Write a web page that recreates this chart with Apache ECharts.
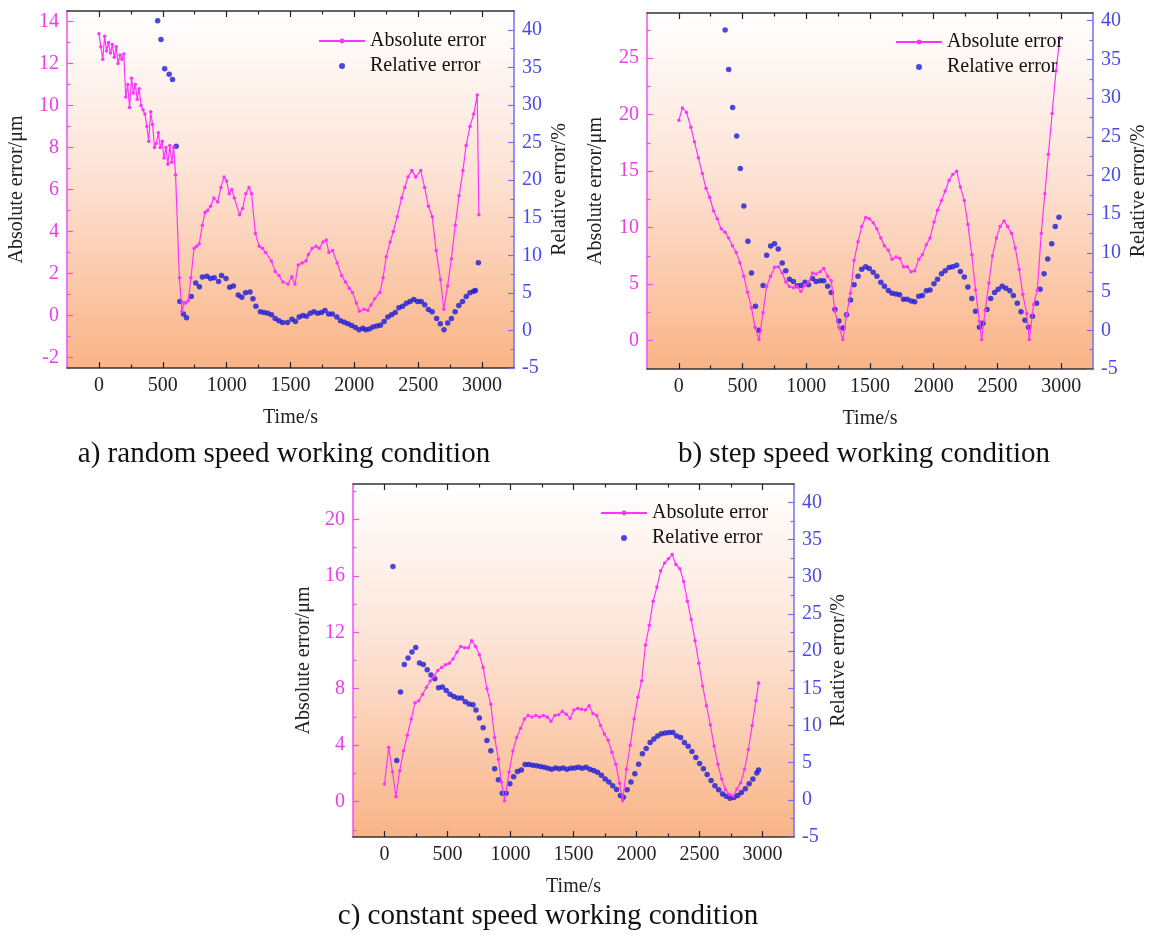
<!DOCTYPE html>
<html><head><meta charset="utf-8">
<script src="https://cdn.jsdelivr.net/npm/echarts@6/dist/echarts.min.js"></script>
<style>html,body{margin:0;padding:0;background:#fff}#c{width:1150px;height:936px}</style>
</head><body><div id="c"></div>
<script>
// ---------- tick labels ----------
const xTicks = [0, 500, 1000, 1500, 2000, 2500, 3000];
const xMinorTicks = [250, 750, 1250, 1750, 2250, 2750];
const rightTicks = [-5, 0, 5, 10, 15, 20, 25, 30, 35, 40];
const rightMinorTicks = [-2.5, 2.5, 7.5, 12.5, 17.5, 22.5, 27.5, 32.5, 37.5];
const aLeftTicks = [-2, 0, 2, 4, 6, 8, 10, 12, 14];
const aLeftMinor = [-1, 1, 3, 5, 7, 9, 11, 13];
const bLeftTicks = [0, 5, 10, 15, 20, 25];
const bLeftMinor = [2.5, 7.5, 12.5, 17.5, 22.5, 27.5];
const cLeftTicks = [0, 4, 8, 12, 16, 20];
const cLeftMinor = [-2, 2, 6, 10, 14, 18, 22];
const captions = ['a) random speed working condition', 'b) step speed working condition', 'c) constant speed working condition'];

// ---------- panel a: random speed ----------
const aAbsT = [0,15,30,45,60,75,90,105,120,135,150,165,180,195,210,225,240,255,270,285,300,315,330,345,360,375,390,405,420,435,450,465,480,495,510,525,540,555,570,585,600,630,650,665,680,700,720,745,765,785,810,830,850,875,900,930,955,980,1000,1020,1040,1060,1100,1125,1150,1175,1195,1225,1255,1280,1305,1350,1380,1410,1440,1480,1510,1535,1560,1590,1620,1640,1670,1700,1725,1755,1780,1800,1830,1865,1900,1930,1960,1985,2015,2040,2075,2105,2130,2160,2200,2225,2250,2280,2305,2335,2370,2395,2420,2450,2480,2520,2550,2580,2610,2640,2675,2700,2730,2760,2790,2820,2850,2875,2905,2935,2962,2975];
const aAbsV = [13.42,12.8,12.2,13.3,12.6,13.0,12.5,12.9,12.3,12.8,12.0,12.4,12.2,12.45,10.4,11.0,9.9,11.3,10.6,11.0,10.3,10.8,10.0,9.8,9.6,9.0,8.3,9.7,9.1,8.0,8.2,8.7,8.0,8.3,7.5,8.0,7.2,8.1,7.3,8.0,6.7,1.8,0.2,0.6,0.6,0.7,1.8,3.2,3.3,3.4,4.3,4.9,5.0,5.2,5.6,5.4,6.1,6.6,6.4,5.8,6.0,5.6,4.8,5.1,5.8,6.1,5.8,3.9,3.3,3.2,3.0,2.6,2.1,1.9,1.6,1.5,1.85,1.5,2.4,2.5,2.6,2.9,3.2,3.3,3.2,3.5,3.6,3.0,3.1,2.5,1.9,1.6,1.3,1.1,0.6,0.2,0.3,0.25,0.5,0.8,1.1,1.8,2.8,3.5,4.0,4.7,5.6,6.1,6.6,6.9,6.6,6.9,6.1,5.2,4.7,3.1,1.7,0.3,1.4,2.7,4.3,5.7,6.9,8.1,9.0,9.6,10.5,4.8];
const aRelT = [460,486,515,550,576,605,634,662,686,723,758,787,810,845,874,903,937,960,995,1024,1053,1091,1119,1148,1183,1206,1229,1264,1293,1322,1351,1380,1409,1438,1476,1511,1539,1568,1597,1626,1655,1684,1713,1742,1770,1799,1828,1863,1892,1921,1950,1979,2008,2037,2066,2089,2117,2146,2175,2204,2233,2262,2291,2320,2349,2378,2407,2436,2465,2494,2523,2551,2580,2609,2644,2673,2702,2731,2760,2789,2818,2847,2876,2905,2934,2948,2971];
const aRelV = [41.2,38.7,34.8,34.1,33.4,24.5,3.85,2.2,1.7,4.5,6.3,5.8,7.1,7.2,6.9,7.0,6.5,7.3,6.9,5.75,5.9,4.7,4.4,5.0,5.1,4.2,3.2,2.5,2.4,2.3,2.1,1.6,1.3,1.06,1.06,1.5,1.2,1.8,2.0,1.9,2.3,2.5,2.3,2.4,2.65,2.2,2.2,1.8,1.3,1.1,0.9,0.66,0.4,0.1,0.3,0.1,0.2,0.44,0.6,0.7,1.2,1.8,2.1,2.4,3.0,3.2,3.6,3.85,4.1,3.85,3.85,3.4,2.8,2.5,1.6,0.9,0.1,1.0,1.6,2.5,3.3,3.85,4.5,5.0,5.2,5.3,9.0];

// ---------- panel b: step speed ----------
const bAbsT = [0,28,60,94,122,153,184,213,241,272,301,332,363,391,420,451,479,510,539,570,598,629,661,689,720,751,780,811,839,868,899,930,958,990,1018,1049,1077,1109,1137,1168,1196,1225,1256,1287,1316,1347,1375,1406,1435,1466,1494,1525,1554,1585,1613,1644,1673,1704,1732,1763,1792,1823,1851,1883,1911,1942,1971,2002,2030,2061,2090,2121,2149,2180,2209,2240,2268,2299,2328,2359,2376,2404,2433,2461,2492,2521,2552,2580,2611,2640,2671,2699,2730,2750,2784,2813,2844,2872,2900,2929,2960,2990];
const bAbsV = [19.5,20.6,20.2,18.9,17.6,16.2,14.8,13.5,12.7,11.5,10.8,9.9,9.6,9.1,8.4,7.8,6.9,5.7,4.3,2.9,1.2,0.1,2.5,4.8,5.7,6.5,6.55,6.0,5.2,4.8,4.7,4.8,4.35,4.9,5.2,6.0,5.9,6.1,6.4,5.7,5.3,2.6,1.2,0.1,2.3,4.2,7.1,8.75,10.1,10.9,10.8,10.45,9.9,9.1,8.4,8.0,7.2,7.4,7.3,6.55,6.55,6.1,6.2,7.2,7.6,8.5,9.1,10.5,11.55,12.4,13.25,14.2,14.7,15.0,13.6,12.4,10.3,7.6,4.5,1.7,0.1,2.7,5.1,7.5,9.1,10.1,10.6,10.1,9.5,8.2,6.3,4.1,2.4,0.1,3.2,4.5,9.5,13.0,16.5,20.1,23.9,26.8];
const bRelT = [363,391,422,454,482,510,542,570,601,629,661,689,720,751,780,811,839,868,899,930,958,990,1018,1049,1077,1109,1137,1168,1196,1225,1256,1287,1316,1347,1375,1406,1435,1466,1494,1525,1554,1585,1613,1644,1673,1704,1732,1763,1792,1823,1851,1883,1911,1942,1971,2002,2030,2061,2090,2121,2149,2180,2209,2240,2268,2299,2328,2359,2387,2418,2447,2478,2506,2537,2566,2597,2625,2656,2685,2716,2744,2775,2807,2835,2866,2895,2926,2954,2983];
const bRelV = [38.8,33.7,28.8,25.1,20.9,16.05,11.5,7.4,3.1,0.0,5.8,9.7,10.9,11.2,10.5,8.7,7.7,6.6,6.3,5.75,5.8,6.2,5.9,6.7,6.3,6.4,6.4,5.7,4.9,2.7,1.2,0.3,2.0,3.9,5.9,7.0,7.9,8.2,8.0,7.5,7.0,6.2,5.7,5.15,4.8,4.7,4.6,4.0,4.0,3.8,3.7,4.4,4.5,5.1,5.2,6.0,6.6,7.3,7.7,8.1,8.2,8.4,7.6,6.9,5.6,4.1,2.45,0.4,0.9,2.7,4.1,4.9,5.3,5.7,5.45,5.1,4.5,3.5,2.4,1.3,0.4,1.8,3.5,5.3,7.3,9.2,11.2,13.4,14.6];

// ---------- panel c: constant speed ----------
const cAbsT = [0,33,64,91,121,151,181,212,242,272,302,333,363,393,423,454,484,514,544,575,605,635,665,692,723,753,783,813,844,874,904,928,953,989,1019,1049,1080,1110,1140,1170,1200,1231,1261,1291,1321,1352,1382,1412,1442,1473,1503,1533,1563,1594,1624,1654,1684,1715,1745,1775,1805,1836,1866,1890,1920,1950,1981,2011,2041,2071,2102,2132,2162,2192,2223,2253,2283,2313,2344,2374,2404,2434,2465,2495,2525,2555,2586,2616,2646,2676,2706,2737,2767,2797,2827,2858,2888,2918,2948,2969];
const cAbsV = [1.25,3.85,2.1,0.35,2.2,3.6,4.7,5.85,7.0,7.15,7.6,8.1,8.55,8.9,9.3,9.5,9.7,9.8,10.1,10.6,11.0,10.9,10.9,11.4,11.0,10.4,9.5,8.0,6.9,4.55,3.0,1.4,0.07,2.1,3.6,4.55,5.2,5.85,6.1,6.0,6.1,6.0,6.1,6.0,5.7,6.1,6.15,6.4,6.2,5.9,6.5,6.6,6.55,6.5,6.8,6.25,6.1,5.4,4.8,4.35,3.5,2.65,1.3,0.07,2.3,4.0,5.85,7.4,8.55,11.1,12.5,14.2,15.2,16.35,16.9,17.2,17.5,16.8,16.5,15.6,14.2,12.9,11.4,9.8,8.2,6.8,5.45,3.95,2.65,1.6,0.85,0.5,0.4,0.9,1.35,2.3,3.7,5.4,7.15,8.4];
const cRelT = [67,97,127,157,187,218,248,278,308,339,369,399,429,460,490,520,550,581,611,641,671,702,726,753,783,813,844,874,904,934,965,995,1025,1055,1086,1116,1146,1176,1207,1237,1267,1297,1327,1358,1388,1418,1448,1479,1509,1539,1569,1600,1630,1660,1690,1721,1751,1781,1811,1842,1872,1896,1926,1956,1987,2017,2047,2077,2108,2138,2168,2198,2229,2259,2289,2319,2350,2380,2410,2440,2471,2501,2531,2561,2592,2622,2652,2683,2713,2743,2773,2803,2833,2864,2894,2924,2955,2969];
const cRelV = [31.4,5.3,14.5,18.2,19.1,19.9,20.5,18.4,18.2,17.5,16.8,16.3,15.1,15.2,14.7,14.2,13.9,13.7,13.7,13.2,12.9,12.8,12.1,11.0,9.7,8.0,6.6,4.2,2.7,0.9,0.9,2.15,3.1,3.8,4.0,4.75,4.75,4.65,4.6,4.5,4.4,4.25,4.1,4.3,4.2,4.3,4.1,4.25,4.3,4.4,4.25,4.4,4.1,3.95,3.7,3.3,2.8,2.4,1.9,1.4,0.6,0.35,1.35,2.4,3.5,4.8,6.2,6.9,7.7,8.2,8.6,8.9,9.0,9.05,9.05,8.6,8.4,7.7,7.2,6.5,5.7,4.9,4.2,3.4,2.6,1.9,1.35,0.8,0.5,0.2,0.3,0.6,1.0,1.5,2.15,2.8,3.6,4.0];

// ---------- build ----------
const FONT = "'Liberation Serif','Times New Roman',serif";
const FS = 20;
const MAGENTA = '#ff33ff', BLUE = '#1c1cd8';
const LEFT_COL = '#ec3cec', LEFT_LINE = '#f050f0', RIGHT_COL = '#4a4ae6', RIGHT_LINE = '#7070f0';
const zip = (t, v) => t.map((x, i) => [x, v[i]]);

const panels = [
  { grid: {left: 67, top: 11, width: 447, height: 357}, lmin: -2.5, lmax: 14.5, lt: aLeftTicks, lm: aLeftMinor,
    rmin: -5, rmax: 42.5, abs: zip(aAbsT, aAbsV), rel: zip(aRelT, aRelV),
    legend: {left: 318, top: 31}, lgap: 40, rgap: 36, cap: [284, 454] },
  { grid: {left: 647, top: 13, width: 447, height: 356}, lmin: -2.5, lmax: 29, lt: bLeftTicks, lm: bLeftMinor,
    rmin: -5, rmax: 41, abs: zip(bAbsT, bAbsV), rel: zip(bRelT, bRelV),
    legend: {left: 895, top: 32}, lgap: 41, rgap: 36, cap: [864, 454] },
  { grid: {left: 353, top: 484, width: 441, height: 353}, lmin: -2.5, lmax: 22.5, lt: cLeftTicks, lm: cLeftMinor,
    rmin: -5, rmax: 42.5, abs: zip(cAbsT, cAbsV), rel: zip(cRelT, cRelV),
    legend: {left: 600, top: 503}, lgap: 39, rgap: 35, cap: [548, 916] }
];

const option = { animation: false, backgroundColor: '#fff', grid: [], xAxis: [], yAxis: [], series: [], legend: [], graphic: [] };

const bg = { type: 'linear', x: 0, y: 0, x2: 0, y2: 1,
  colorStops: [{offset: 0, color: '#ffffff'}, {offset: 0.45, color: '#fde3d6'}, {offset: 1, color: '#f9b486'}] };

function valAxis(gi, pos, min, max, ticks, len, color, lineColor, showLine, showLabel, labelColor, extra) {
  return Object.assign({
    type: 'value', gridIndex: gi, position: pos, min: min, max: max,
    axisLine: { show: showLine, onZero: false, lineStyle: { color: lineColor, width: 1.5 } },
    axisTick: { show: true, inside: true, length: len, customValues: ticks, lineStyle: { color: color, width: 1.2 } },
    axisLabel: showLabel ? { show: true, customValues: ticks, color: labelColor, fontSize: FS, fontFamily: FONT, margin: 8,
      formatter: function (v) { return String(v); } } : { show: false },
    splitLine: { show: false }
  }, extra || {});
}

const nameStyle = { color: '#222', fontSize: FS, fontFamily: FONT };

panels.forEach((p, i) => {
  option.grid.push(Object.assign({ show: true, backgroundColor: bg, borderWidth: 0 }, p.grid));
  // x axes
  option.xAxis.push(valAxis(i, 'bottom', -250, 3250, xTicks, 6, '#222', '#333', true, true, '#222',
    { name: 'Time/s', nameLocation: 'middle', nameGap: 40, nameTextStyle: nameStyle }));
  option.xAxis.push(valAxis(i, 'bottom', -250, 3250, xMinorTicks, 3.5, '#222', '#333', false, false));
  option.xAxis.push(valAxis(i, 'top', -250, 3250, xTicks, 6, '#222', '#333', true, false));
  option.xAxis.push(valAxis(i, 'top', -250, 3250, xMinorTicks, 3.5, '#222', '#333', false, false));
  // y axes
  option.yAxis.push(valAxis(i, 'left', p.lmin, p.lmax, p.lt, 6, LEFT_LINE, LEFT_LINE, true, true, LEFT_COL,
    { name: 'Absolute error/μm', nameLocation: 'middle', nameGap: p.lgap, nameTextStyle: nameStyle }));
  option.yAxis.push(valAxis(i, 'left', p.lmin, p.lmax, p.lm, 3.5, LEFT_LINE, LEFT_LINE, false, false));
  option.yAxis.push(valAxis(i, 'right', p.rmin, p.rmax, rightTicks, 6, RIGHT_LINE, RIGHT_LINE, true, true, RIGHT_COL,
    { name: 'Relative error/%', nameLocation: 'middle', nameRotate: 90, nameGap: p.rgap, nameTextStyle: nameStyle }));
  option.yAxis.push(valAxis(i, 'right', p.rmin, p.rmax, rightMinorTicks, 3.5, RIGHT_LINE, RIGHT_LINE, false, false));

  option.series.push({
    name: 'Absolute error', type: 'line', xAxisIndex: i * 4, yAxisIndex: i * 4, data: p.abs,
    symbol: 'circle', symbolSize: 3.5, showAllSymbol: true,
    lineStyle: { color: MAGENTA, width: 1.2 }, itemStyle: { color: MAGENTA }
  });
  option.series.push({
    name: 'Relative error', type: 'scatter', xAxisIndex: i * 4, yAxisIndex: i * 4 + 2, data: p.rel,
    symbol: 'circle', symbolSize: 5.5, itemStyle: { color: BLUE }
  });
  option.legend.push({
    orient: 'vertical', left: p.legend.left, top: p.legend.top, padding: 0, itemWidth: 46, itemHeight: 6, itemGap: 5,
    data: ['Absolute error', 'Relative error'], selectedMode: false,
    textStyle: { color: '#111', fontSize: FS, fontFamily: FONT }
  });
  option.graphic.push({
    type: 'text', x: p.cap[0], y: p.cap[1],
    style: { text: captions[i], fontSize: 29, fontFamily: FONT, fill: '#111',
      align: 'center', verticalAlign: 'middle', textAlign: 'center', textVerticalAlign: 'middle' }
  });
});

const chart = echarts.init(document.getElementById('c'), null, { renderer: 'canvas' });
chart.setOption(option);
</script>
</body></html>
